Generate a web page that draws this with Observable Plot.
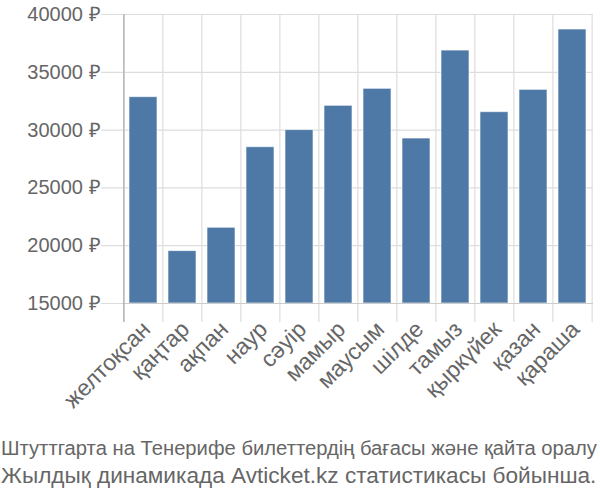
<!DOCTYPE html>
<html><head><meta charset="utf-8">
<script src="https://cdn.jsdelivr.net/npm/d3@7"></script>
<script src="https://cdn.jsdelivr.net/npm/@observablehq/plot@0.6"></script>
<style>
body{margin:0;background:#fff;font-family:"Liberation Sans",Arial,sans-serif;}
#chart svg, #cap {display:block;}
</style></head><body>
<div id="chart"></div>
<svg id="cap" width="600" height="70" xmlns="http://www.w3.org/2000/svg" font-family="Liberation Sans, Arial, sans-serif" fill="#666">
  <text class="fit" x="0" y="25" font-size="21">Штуттгарта на Тенерифе билеттердің бағасы және қайта оралу</text>
  <text class="fit" x="0" y="53" font-size="22">Жылдық динамикада Avticket.kz статистикасы бойынша.</text>
</svg>
<script>
const months = ["желтоқсан","қаңтар","ақпан","наур","сәуір","мамыр","маусым","шілде","тамыз","қыркүйек","қазан","қараша"];
const prices = [32850, 19530, 21550, 28520, 30000, 32100, 33570, 29270, 36880, 31550, 33480, 38700];
const yTicks = [15000, 20000, 25000, 30000, 35000, 40000];

const data = months.map((m, i) => ({month: m, price: prices[i]}));
const W = 600, mL = 122, mR = 7;
const step = (W - mL - mR) / months.length;

const chart = Plot.plot({
  width: W, height: 430,
  marginLeft: mL, marginRight: mR, marginTop: 14, marginBottom: 127,
  style: {fontFamily: "Liberation Sans, Arial, sans-serif", color: "#666", background: "#fff"},
  x: {type: "band", domain: months, paddingInner: 0.29, paddingOuter: 0.145, label: null},
  y: {domain: [15000, 40000], label: null},
  marks: [
    Plot.ruleY(yTicks, {stroke: "#ddd", strokeWidth: 1.2, insetLeft: -21}),
    Plot.ruleX(months, {x: d => d, dx: -step / 2, stroke: "#ddd", strokeWidth: 1.2, insetBottom: -19}),
    Plot.ruleX([months[months.length - 1]], {x: d => d, dx: step / 2, stroke: "#ddd", strokeWidth: 1.2, insetBottom: -19}),
    Plot.barY(data, {x: "month", y1: 15000, y2: "price", fill: "#4e79a7", stroke: "#fff", strokeOpacity: 0.6, strokeWidth: 1}),
    Plot.ruleY([15000], {stroke: "#ccc", strokeWidth: 1.2}),
    Plot.ruleX([months[0]], {x: d => d, dx: -step / 2, stroke: "#aaa", strokeWidth: 1.2, insetBottom: -19}),
    Plot.axisY({ticks: yTicks, tickSize: 0, tickPadding: 22, fontSize: 20, tickFormat: d => d + " ₽", label: null}),
    Plot.axisX({tickSize: 0, tickPadding: 22, tickRotate: -45, fontSize: 23, dx: 3, label: null})
  ]
});
document.getElementById("chart").appendChild(chart);

// fit each caption line to the page width, as in the reference
document.querySelectorAll("#cap text.fit").forEach(t => {
  const w = t.getComputedTextLength();
  const sx = 596 / w;
  t.setAttribute("transform", `translate(1,0) scale(${sx},1)`);
});
</script>
</body></html>
